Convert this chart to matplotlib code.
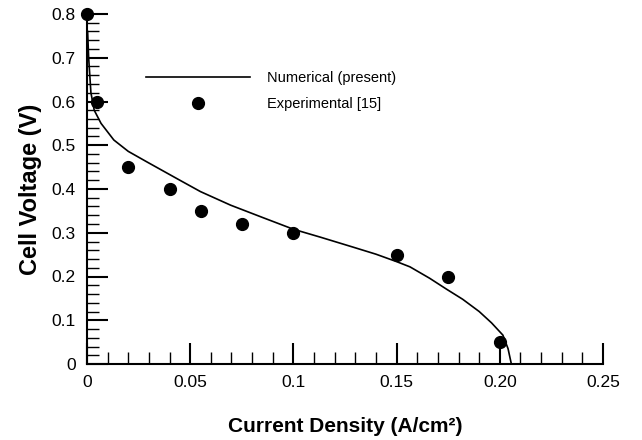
import matplotlib.pyplot as plt
from matplotlib.ticker import MultipleLocator

plt.rcParams['font.family'] = ['Liberation Sans', 'DejaVu Sans']

# numerical polarization curve
model_i = [0.0003, 0.0008, 0.0019, 0.0035, 0.0068, 0.013, 0.020, 0.029, 0.045,
           0.055, 0.0696, 0.085, 0.100, 0.113, 0.129, 0.140, 0.150, 0.1565,
           0.166, 0.1742, 0.182, 0.190, 0.196, 0.2015, 0.2040, 0.2056]
model_v = [0.76, 0.70, 0.62, 0.58, 0.55, 0.512, 0.486, 0.462, 0.42,
           0.394, 0.363, 0.335, 0.308, 0.290, 0.267, 0.251, 0.234, 0.222,
           0.196, 0.171, 0.148, 0.12, 0.094, 0.066, 0.035, 0.0]

# experimental data [15]
exp_i = [0.0, 0.005, 0.02, 0.04, 0.055, 0.075, 0.1, 0.15, 0.175, 0.2]
exp_v = [0.8, 0.6, 0.45, 0.4, 0.35, 0.32, 0.3, 0.25, 0.2, 0.05]

x_ticks = [0, 0.05, 0.1, 0.15, 0.2, 0.25]
x_tick_labels = ['0', '0.05', '0.1', '0.15', '0.20', '0.25']
y_ticks = [0, 0.1, 0.2, 0.3, 0.4, 0.5, 0.6, 0.7, 0.8]
y_tick_labels = ['0', '0.1', '0.2', '0.3', '0.4', '0.5', '0.6', '0.7', '0.8']

fig = plt.figure(figsize=(6.42, 4.40), dpi=100)
ax = fig.add_axes([87 / 642, 1 - 364 / 440, (603 - 87) / 642, (364 - 14) / 440])

ax.plot(model_i, model_v, color='black', lw=1.2, label='Numerical (present)')
ax.plot(exp_i, exp_v, 'o', color='black', ms=8.5, clip_on=False, zorder=5,
        label='Experimental [15]')

ax.set_xlim(0, 0.25)
ax.set_ylim(0, 0.8)
ax.set_xticks(x_ticks)
ax.set_xticklabels(x_tick_labels)
ax.set_yticks(y_ticks)
ax.set_yticklabels(y_tick_labels)
ax.xaxis.set_minor_locator(MultipleLocator(0.01))
ax.yaxis.set_minor_locator(MultipleLocator(0.02))
ax.tick_params(which='major', direction='in', length=15, width=1.5, pad=8,
               labelsize=12.5)
ax.tick_params(which='minor', direction='in', length=8.5, width=1.0)

for side in ['top', 'right']:
    ax.spines[side].set_visible(False)
for side in ['left', 'bottom']:
    ax.spines[side].set_linewidth(1.5)

ax.set_xlabel('Current Density (A/cm²)', fontsize=15, fontweight='bold',
              labelpad=19)
ax.set_ylabel('Cell Voltage (V)', fontsize=17, fontweight='bold', labelpad=7)

ax.legend(loc='upper left', bbox_to_anchor=(146 / 642, 1 - 71 / 440),
          bbox_transform=fig.transFigure, frameon=False, borderpad=0,
          borderaxespad=0, handlelength=7.1, handletextpad=1.2,
          labelspacing=0.85, fontsize=10.5, numpoints=1)

fig.savefig('out.png', dpi=100)
